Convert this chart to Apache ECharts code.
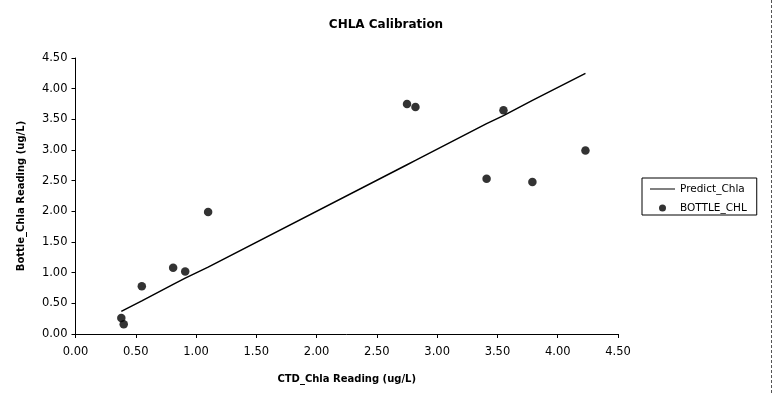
<!DOCTYPE html>
<html><head><meta charset="utf-8">
<script src="https://cdn.jsdelivr.net/npm/echarts@6/dist/echarts.min.js"></script>
<style>html,body{margin:0;padding:0;background:#fff}#c{width:774px;height:393px}</style>
</head><body><div id="c"></div>
<script>
var ctdX = [0.38, 0.40, 0.55, 0.81, 0.91, 1.10, 2.75, 2.82, 3.41, 3.55, 3.79, 4.23];
var bottleY = [0.26, 0.16, 0.78, 1.08, 1.02, 1.99, 3.75, 3.70, 2.53, 3.65, 2.48, 2.99];
var predictY = [0.37, 0.39, 0.54, 0.81, 0.91, 1.09, 2.76, 2.83, 3.43, 3.56, 3.81, 4.25];
var tickLabels = ['0.00','0.50','1.00','1.50','2.00','2.50','3.00','3.50','4.00','4.50'];

var font = 'DejaVu Sans, Verdana, sans-serif';
var chart = echarts.init(document.getElementById('c'));
chart.setOption({
  animation: false,
  backgroundColor: '#fff',
  title: {
    text: 'CHLA Calibration', left: 381, top: 14, textAlign: 'center',
    textStyle: { fontFamily: font, fontSize: 12, fontWeight: 'bold', color: '#000' }
  },
  legend: {
    orient: 'vertical', left: 642, top: 178,
    borderColor: '#000', borderWidth: 1, borderRadius: 0,
    padding: [5, 10, 1, 8], itemGap: 7, itemWidth: 25, itemHeight: 7,
    textStyle: { fontFamily: font, fontSize: 10.5, color: '#000', lineHeight: 12 },
    data: [
      { name: 'Predict_Chla', icon: 'path://M0,5 L25,5 L25,6 L0,6 Z' },
      { name: 'BOTTLE_CHL', icon: 'circle' }
    ]
  },
  grid: { left: 75.5, right: 156, top: 58, bottom: 59, containLabel: false },
  xAxis: {
    type: 'value', min: 0, max: 4.5, interval: 0.5,
    name: 'CTD_Chla Reading (ug/L)', nameLocation: 'middle', nameGap: 40,
    nameTextStyle: { fontFamily: font, fontSize: 10, fontWeight: 'bold', color: '#000' },
    axisLine: { show: true, lineStyle: { color: '#000', width: 1 } },
    axisTick: { show: true, length: 4, lineStyle: { color: '#000' } },
    axisLabel: { fontFamily: font, fontSize: 11.5, color: '#000', margin: 12,
      formatter: function (v) { return tickLabels[Math.round(v / 0.5)]; } },
    splitLine: { show: false }
  },
  yAxis: {
    type: 'value', min: 0, max: 4.5, interval: 0.5,
    name: 'Bottle_Chla Reading (ug/L)', nameLocation: 'middle', nameGap: 49, nameRotate: 90,
    nameTextStyle: { fontFamily: font, fontSize: 10, fontWeight: 'bold', color: '#000' },
    axisLine: { show: true, lineStyle: { color: '#000', width: 1 } },
    axisTick: { show: true, length: 4, lineStyle: { color: '#000' } },
    axisLabel: { fontFamily: font, fontSize: 11.5, color: '#000', margin: 8,
      formatter: function (v) { return tickLabels[Math.round(v / 0.5)]; } },
    splitLine: { show: false }
  },
  series: [
    {
      name: 'Predict_Chla', type: 'line', showSymbol: false, symbol: 'none',
      lineStyle: { color: '#000', width: 1.5 }, itemStyle: { color: '#000' },
      data: ctdX.map(function (x, i) { return [x, predictY[i]]; })
    },
    {
      name: 'BOTTLE_CHL', type: 'scatter', symbol: 'circle', symbolSize: 8.5,
      itemStyle: { color: '#000' },
      data: ctdX.map(function (x, i) { return [x, bottleY[i]]; })
    }
  ],
  graphic: [
    { type: 'line', shape: { x1: 771.5, y1: 0, x2: 771.5, y2: 393 },
      style: { stroke: '#555', lineWidth: 1, lineDash: [3, 2] } }
  ]
});
</script></body></html>
